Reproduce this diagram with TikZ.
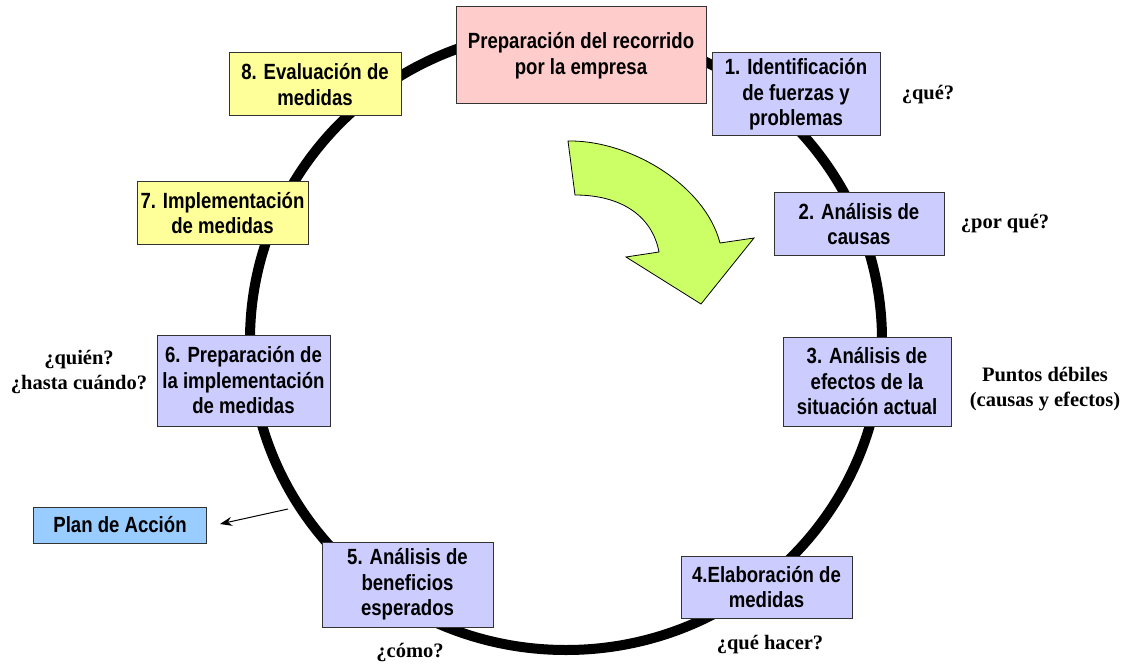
\documentclass[tikz,border=0pt]{standalone}
\usepackage{fontspec}
\usetikzlibrary{arrows.meta}
\newfontfamily\boxfont[FakeStretch=0.845]{Liberation Sans}
\newfontfamily\labfont{Liberation Serif}
\definecolor{pinkbox}{HTML}{FFCCCC}
\definecolor{lavbox}{HTML}{CCCCFF}
\definecolor{yelbox}{HTML}{FFFF99}
\definecolor{bluebox}{HTML}{99CCFF}
\definecolor{greenarr}{HTML}{CCFF66}
\begin{document}
\begin{tikzpicture}[x=1bp,y=-1bp,
  boxstyle/.style={draw=black!80, line width=1bp, align=center, inner sep=0pt,
    font=\boxfont\bfseries\fontsize{22bp}{25.5bp}\selectfont},
  lavstyle/.style={boxstyle, fill=lavbox},
  labstyle/.style={align=center, inner sep=0pt,
    font=\labfont\bfseries\fontsize{20.5bp}{25bp}\selectfont}]
\useasboundingbox (0,0) rectangle (1127,664);
\fill[white] (0,0) rectangle (1127,664);
% ring
\draw[line width=10bp] (566,340) ellipse [x radius=316bp, y radius=310bp];
% green curved arrow
\draw[fill=greenarr, line width=0.8bp, line join=miter]
  (568,141) .. controls (630,140) and (705,185) .. (720,243)
  -- (754,238) -- (701,304) -- (626,257) -- (659,252)
  .. controls (652,215) and (620,195) .. (575,195) -- cycle;
% boxes
\node[boxstyle, fill=pinkbox, minimum width=250bp, minimum height=97bp] (prep) at (581,55.5) {Preparación del recorrido\\por la empresa};
\node[lavstyle, minimum width=168bp, minimum height=83bp] (b1) at (796,94.5) {1. Identificación\\de fuerzas y\\problemas};
\node[lavstyle, minimum width=170bp, minimum height=62bp] (b2) at (859,224) {2. Análisis de\\causas};
\node[lavstyle, minimum width=168bp, minimum height=89bp] (b3) at (867,381.5) {3. Análisis de\\efectos de la\\situación actual};
\node[lavstyle, minimum width=171bp, minimum height=62bp] (b4) at (766.5,587) {4.Elaboración de\\medidas};
\node[lavstyle, minimum width=171bp, minimum height=85bp] (b5) at (407.5,584.5) {5. Análisis de\\beneficios\\esperados};
\node[lavstyle, minimum width=173bp, minimum height=91bp] (b6) at (243.5,380.5) {6. Preparación de\\la implementación\\de medidas};
\node[boxstyle, fill=yelbox, minimum width=171bp, minimum height=62bp] (b7) at (222.5,213) {7. Implementación\\de medidas};
\node[boxstyle, fill=yelbox, minimum width=172bp, minimum height=63bp] (b8) at (315,84.5) {8. Evaluación de\\medidas};
\node[boxstyle, fill=bluebox, minimum width=172bp, minimum height=36bp] (plan) at (120,525) {Plan de Acción};
% side labels
\node[labstyle] (l1) at (928,95) {¿qué?};
\node[labstyle] (l2) at (1005,224) {¿por qué?};
\node[labstyle] (l3) at (1045,389) {Puntos débiles\\(causas y efectos)};
\node[labstyle] (l4) at (770,645) {¿qué hacer?};
\node[labstyle] (l5) at (410,652) {¿cómo?};
\node[labstyle] (l6) at (79,372) {¿quién?\\¿hasta cuándo?};
% arrow to plan
\coordinate (arrstart) at (288,509);
\coordinate (arrtip) at (220,524);
\draw[line width=1bp, -{Stealth[length=12bp,width=9bp]}] (arrstart) -- (arrtip);
\end{tikzpicture}
\end{document}
